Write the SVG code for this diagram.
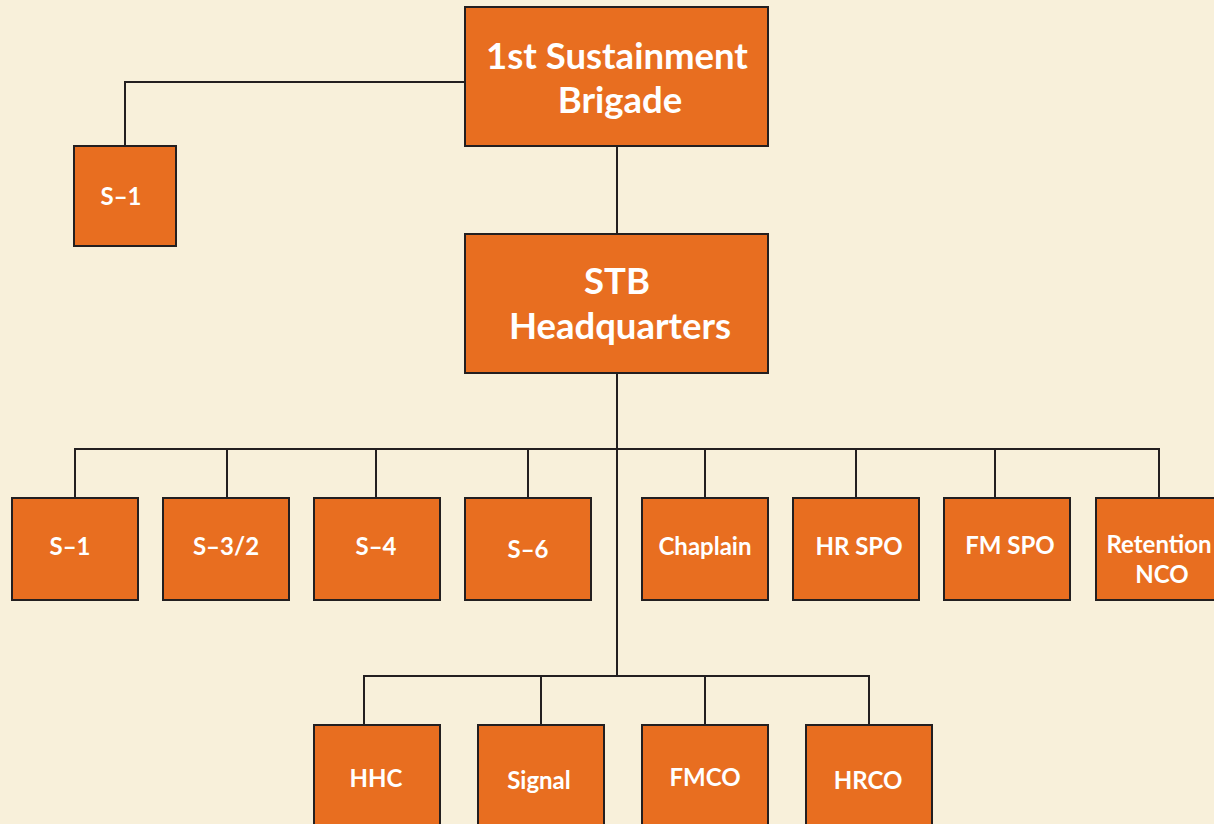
<svg xmlns="http://www.w3.org/2000/svg" width="1214" height="824" viewBox="0 0 1214 824">
<style>
.bg{fill:#F8F0DA}
.box{fill:#E86E20;stroke:#231F20;stroke-width:2}
.t{font-family:Lato,"Open Sans","Liberation Sans",sans-serif;font-weight:bold;fill:#FFFFFF;text-anchor:middle;font-size:24px}
.big{font-size:36.5px}
.conn{fill:none;stroke:#231F20;stroke-width:2}
</style>
<rect class="bg" x="0" y="0" width="1214" height="824"/>
<g id="connectors">
<path class="conn" d="M465,82 H125 V146"/>
<path class="conn" d="M617,146 V234"/>
<path class="conn" d="M617,373 V676"/>
<path class="conn" d="M75,498 V449 H1159 V498"/>
<path class="conn" d="M227,449 V498 M376,449 V498 M528,449 V498 M705,449 V498 M856,449 V498 M995,449 V498"/>
<path class="conn" d="M364,725 V676 H869 V725"/>
<path class="conn" d="M541,676 V725 M705,676 V725"/>
</g>
<g id="brigade"><rect class="box" x="465" y="7" width="303" height="139"/><text class="t big" x="617" y="69">1st Sustainment</text><text class="t big" x="620" y="113">Brigade</text></g>
<g id="s1-top"><rect class="box" x="74" y="146" width="102" height="100"/><text class="t" x="121" y="205">S–1</text></g>
<g id="stb"><rect class="box" x="465" y="234" width="303" height="139"/><text class="t big" x="617" y="294">STB</text><text class="t big" x="620" y="339">Headquarters</text></g>
<g id="s1"><rect class="box" x="12" y="498" width="126" height="102"/><text class="t" x="70" y="555">S–1</text></g>
<g id="s32"><rect class="box" x="163" y="498" width="126" height="102"/><text class="t" x="226" y="555">S–3/2</text></g>
<g id="s4"><rect class="box" x="314" y="498" width="126" height="102"/><text class="t" x="376" y="555">S–4</text></g>
<g id="s6"><rect class="box" x="465" y="498" width="126" height="102"/><text class="t" x="528" y="558">S–6</text></g>
<g id="chaplain"><rect class="box" x="642" y="498" width="126" height="102"/><text class="t" x="705" y="555">Chaplain</text></g>
<g id="hrspo"><rect class="box" x="793" y="498" width="126" height="102"/><text class="t" x="859" y="555">HR SPO</text></g>
<g id="fmspo"><rect class="box" x="944" y="498" width="126" height="102"/><text class="t" x="1010" y="554">FM SPO</text></g>
<g id="retention"><rect class="box" x="1096" y="498" width="126" height="102"/><text class="t" x="1159" y="553">Retention</text><text class="t" x="1162" y="583">NCO</text></g>
<g id="hhc"><rect class="box" x="314" y="725" width="126" height="110"/><text class="t" x="376" y="787">HHC</text></g>
<g id="signal"><rect class="box" x="478" y="725" width="126" height="110"/><text class="t" x="539" y="789">Signal</text></g>
<g id="fmco"><rect class="box" x="642" y="725" width="126" height="110"/><text class="t" x="705" y="786">FMCO</text></g>
<g id="hrco"><rect class="box" x="806" y="725" width="126" height="110"/><text class="t" x="868" y="789">HRCO</text></g>
</svg>
